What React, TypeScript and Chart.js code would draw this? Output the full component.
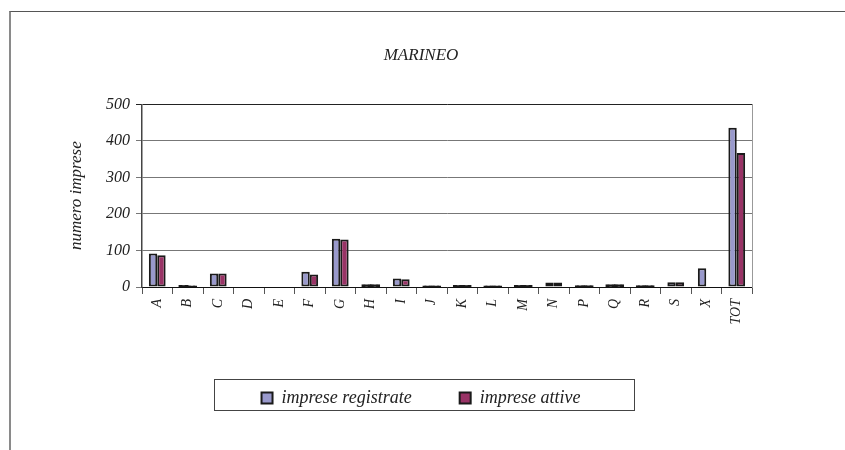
import React, { useEffect, useRef } from "react";
import { Chart, registerables } from "chart.js";

Chart.register(...registerables);

const categories = ["A", "B", "C", "D", "E", "F", "G", "H", "I", "J", "K", "L", "M", "N", "P", "Q", "R", "S", "X", "TOT"];
const impreseRegistrate = [92, 3, 37, 0, 0, 42, 132, 5, 23, 1, 3, 1, 3, 12, 2, 5, 2, 13, 51, 436];
const impreseAttive = [87, 1, 37, 0, 0, 34, 130, 5, 21, 1, 3, 1, 3, 12, 2, 5, 2, 13, 0, 367];
const yMin = 0;
const yMax = 500;
const yStep = 100;
const chartTitle = "MARINEO";
const yAxisTitle = "numero imprese";
const seriesLabels = ["imprese registrate", "imprese attive"];
const seriesColors = ["#9999CC", "#993366"];
const edgeColor = "#1a1a1a";

const FONT = "'Liberation Serif', 'Times New Roman', Times, serif";

const legendFrame = {
  id: "legendFrame",
  afterDraw(chart: any) {
    const lg = chart.legend;
    if (!lg || !lg.legendHitBoxes || !lg.legendHitBoxes.length) return;
    const hb = lg.legendHitBoxes;
    const first = hb[0];
    const last = hb[hb.length - 1];
    const cy = first.top + first.height / 2;
    const x0 = first.left - 48;
    const x1 = last.left + last.width + 53;
    const ctx = chart.ctx;
    ctx.save();
    ctx.strokeStyle = "#444";
    ctx.lineWidth = 1;
    ctx.strokeRect(Math.round(x0) + 0.5, Math.round(cy - 19) + 0.5, Math.round(x1 - x0), 31);
    ctx.restore();
  },
};

// Excel draws the outline around tiny bars, so they read as thin dark bars
const inflate = (c: any) => (c.raw === 0 ? 0 : c.raw < 8 ? 1 : 0);
const fillFor = (color: string) => (c: any) => (c.raw !== undefined && c.raw > 0 && c.raw < 8 ? edgeColor : color);

export default function App() {
  const ref = useRef<HTMLCanvasElement | null>(null);

  useEffect(() => {
    if (!ref.current) return;
    const chart = new Chart(ref.current, {
      type: "bar",
      data: {
        labels: categories,
        datasets: [
          {
            label: seriesLabels[0],
            data: impreseRegistrate,
            backgroundColor: fillFor(seriesColors[0]),
            borderColor: edgeColor,
            borderWidth: 2,
            borderSkipped: false,
            inflateAmount: inflate,
            categoryPercentage: 0.55,
            barPercentage: 1.0,
          },
          {
            label: seriesLabels[1],
            data: impreseAttive,
            backgroundColor: fillFor(seriesColors[1]),
            borderColor: edgeColor,
            borderWidth: 2,
            borderSkipped: false,
            inflateAmount: inflate,
            categoryPercentage: 0.55,
            barPercentage: 1.0,
          },
        ],
      },
      options: {
        responsive: false,
        animation: false,
        devicePixelRatio: 1,
        layout: { padding: { left: 5, right: 8, top: 0, bottom: 33 } },
        plugins: {
          title: {
            display: true,
            text: chartTitle,
            color: "#222",
            font: { family: FONT, size: 17, style: "italic", weight: "normal" },
            padding: { top: 45, bottom: 39 },
          },
          legend: {
            display: true,
            position: "bottom",
            labels: {
              color: "#222",
              font: { family: FONT, size: 18, style: "italic", weight: "normal" },
              boxWidth: 11,
              boxHeight: 11,
              padding: 48,
              generateLabels: (ch: any) =>
                ch.data.datasets.map((ds: any, i: number) => ({
                  text: ds.label,
                  fillStyle: seriesColors[i],
                  strokeStyle: edgeColor,
                  lineWidth: 2,
                  hidden: false,
                  datasetIndex: i,
                  fontColor: "#222",
                })),
            },
          },
          tooltip: { enabled: false },
        },
        scales: {
          x: {
            grid: {
              display: true,
              drawOnChartArea: false,
              drawTicks: true,
              tickLength: 7,
              color: "#555",
              offset: true,
            },
            border: { display: true, color: "#111", width: 1 },
            ticks: {
              color: "#222",
              font: { family: FONT, size: 14, style: "italic" },
              maxRotation: 90,
              minRotation: 90,
              padding: 5,
              autoSkip: false,
            },
            afterFit: (scale: any) => {
              scale.height = 54;
            },
          },
          y: {
            min: yMin,
            max: yMax,
            position: "left",
            grid: {
              color: (c: any) => (c.tick && c.tick.value === yMax ? "#222" : "#777"),
              lineWidth: 1,
              drawTicks: true,
              tickLength: 6,
            },
            border: { display: true, color: "#444", width: 1.5 },
            ticks: {
              stepSize: yStep,
              color: "#222",
              font: { family: FONT, size: 16, style: "italic" },
              padding: 6,
            },
            title: {
              display: true,
              text: yAxisTitle,
              color: "#222",
              font: { family: FONT, size: 17, style: "italic", weight: "normal" },
              padding: { top: 61, bottom: 0 },
            },
            afterFit: (scale: any) => {
              scale.width = 137;
            },
          },
          y2: {
            type: "linear",
            position: "right",
            min: yMin,
            max: yMax,
            grid: { display: false, drawTicks: false },
            ticks: { display: false },
            border: { display: true, color: "#999", width: 1 },
            afterFit: (scale: any) => {
              scale.width = 85;
            },
          },
        },
      },
      plugins: [legendFrame],
    });
    return () => chart.destroy();
  }, []);

  return (
    <div style={{ position: "fixed", left: 0, top: 0, width: 845, height: 450, overflow: "hidden", background: "#fff" }}>
      <div
        style={{
          position: "absolute",
          left: 9,
          top: 11,
          width: 900,
          height: 500,
          borderLeft: "2px solid #8a8a8a",
          borderTop: "1px solid #555",
        }}
      />
      <canvas ref={ref} width={845} height={450} style={{ position: "absolute", left: 0, top: 0, width: 845, height: 450 }} />
    </div>
  );
}
